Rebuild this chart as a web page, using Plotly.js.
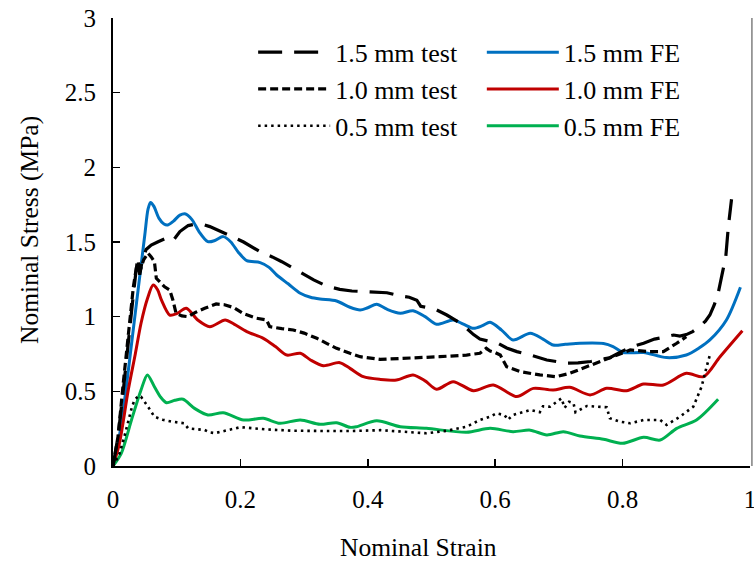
<!DOCTYPE html>
<html>
<head>
<meta charset="utf-8">
<script src="https://cdn.plot.ly/plotly-3.0.1.min.js"></script>
<style>html,body{margin:0;padding:0;background:#fff;}</style>
</head>
<body>
<div id="chart" style="width:754px;height:563px;"></div>
<script>
// ---- data ----
var seriesNames = ["1.5 mm test", "1.0 mm test", "0.5 mm test", "1.5 mm FE", "1.0 mm FE", "0.5 mm FE"];
var xTitle = "Nominal Strain";
var yTitle = "Nominal Stress (MPa)";

var test15X = [0, 0.008, 0.016, 0.024, 0.032, 0.036, 0.039, 0.042, 0.046, 0.052, 0.06, 0.07, 0.08, 0.086, 0.092, 0.098, 0.105, 0.118, 0.13, 0.144, 0.152, 0.165, 0.18, 0.205, 0.231, 0.25, 0.265, 0.288, 0.315, 0.335, 0.356, 0.375, 0.395, 0.414, 0.43, 0.451, 0.465, 0.477, 0.483, 0.495, 0.508, 0.524, 0.54, 0.555, 0.566, 0.576, 0.592, 0.605, 0.618, 0.634, 0.655, 0.681, 0.712, 0.73, 0.75, 0.765, 0.78, 0.798, 0.815, 0.833, 0.85, 0.869, 0.88, 0.89, 0.9, 0.91, 0.921, 0.93, 0.937, 0.944, 0.95, 0.956, 0.962, 0.966, 0.971];
var test15Y = [0, 0.2, 0.5, 0.85, 1.15, 1.3, 1.4, 1.28, 1.38, 1.45, 1.48, 1.5, 1.52, 1.53, 1.55, 1.53, 1.57, 1.61, 1.62, 1.614, 1.603, 1.58, 1.55, 1.5, 1.435, 1.4, 1.368, 1.313, 1.246, 1.206, 1.183, 1.172, 1.168, 1.168, 1.16, 1.139, 1.13, 1.11, 1.07, 1.06, 1.045, 1.011, 0.97, 0.922, 0.88, 0.85, 0.835, 0.82, 0.79, 0.766, 0.743, 0.71, 0.688, 0.69, 0.7, 0.71, 0.725, 0.766, 0.8, 0.822, 0.85, 0.866, 0.877, 0.87, 0.88, 0.9, 0.933, 0.97, 1.011, 1.08, 1.157, 1.28, 1.402, 1.603, 1.786];

var test10X = [0, 0.008, 0.016, 0.024, 0.032, 0.037, 0.042, 0.048, 0.055, 0.06, 0.065, 0.068, 0.075, 0.081, 0.089, 0.094, 0.099, 0.108, 0.118, 0.13, 0.144, 0.162, 0.175, 0.19, 0.205, 0.225, 0.241, 0.246, 0.265, 0.283, 0.3, 0.32, 0.336, 0.351, 0.372, 0.388, 0.419, 0.461, 0.513, 0.555, 0.576, 0.586, 0.592, 0.6, 0.608, 0.618, 0.639, 0.67, 0.696, 0.717, 0.744, 0.775, 0.796, 0.812, 0.843, 0.864, 0.885, 0.9];
var test10Y = [0, 0.2, 0.55, 0.9, 1.2, 1.335, 1.3, 1.38, 1.425, 1.4, 1.368, 1.257, 1.23, 1.2, 1.179, 1.112, 1.023, 1.005, 1.0, 1.03, 1.056, 1.085, 1.08, 1.06, 1.02, 0.99, 0.978, 0.933, 0.92, 0.911, 0.89, 0.855, 0.82, 0.788, 0.755, 0.732, 0.714, 0.721, 0.732, 0.743, 0.755, 0.788, 0.77, 0.76, 0.743, 0.665, 0.632, 0.61, 0.598, 0.621, 0.665, 0.721, 0.755, 0.777, 0.766, 0.766, 0.822, 0.866];

var test05X = [0, 0.01, 0.018, 0.024, 0.03, 0.034, 0.04, 0.044, 0.05, 0.055, 0.065, 0.078, 0.092, 0.112, 0.118, 0.135, 0.144, 0.152, 0.16, 0.18, 0.2, 0.24, 0.283, 0.32, 0.372, 0.42, 0.461, 0.492, 0.524, 0.555, 0.576, 0.592, 0.602, 0.615, 0.62, 0.628, 0.655, 0.67, 0.675, 0.686, 0.704, 0.709, 0.716, 0.723, 0.726, 0.744, 0.775, 0.78, 0.796, 0.812, 0.833, 0.859, 0.869, 0.89, 0.911, 0.924, 0.932, 0.937];
var test05Y = [0, 0.08, 0.2, 0.308, 0.4, 0.442, 0.47, 0.464, 0.43, 0.397, 0.33, 0.31, 0.297, 0.286, 0.252, 0.245, 0.241, 0.225, 0.22, 0.24, 0.26, 0.245, 0.236, 0.235, 0.234, 0.24, 0.23, 0.219, 0.236, 0.263, 0.308, 0.33, 0.353, 0.34, 0.31, 0.342, 0.375, 0.36, 0.4, 0.397, 0.453, 0.39, 0.43, 0.42, 0.36, 0.402, 0.393, 0.32, 0.297, 0.286, 0.308, 0.308, 0.275, 0.33, 0.397, 0.531, 0.665, 0.743];

var fe15X = [0, 0.01, 0.02, 0.03, 0.04, 0.05, 0.055, 0.059, 0.064, 0.072, 0.08, 0.086, 0.095, 0.105, 0.114, 0.124, 0.135, 0.149, 0.16, 0.173, 0.185, 0.197, 0.21, 0.231, 0.245, 0.257, 0.275, 0.294, 0.31, 0.325, 0.351, 0.372, 0.388, 0.4, 0.414, 0.43, 0.451, 0.471, 0.49, 0.508, 0.534, 0.55, 0.566, 0.58, 0.592, 0.61, 0.628, 0.655, 0.675, 0.691, 0.71, 0.733, 0.77, 0.785, 0.801, 0.833, 0.869, 0.9, 0.92, 0.937, 0.963, 0.985];
var fe15Y = [0, 0.2, 0.5, 0.85, 1.2, 1.55, 1.72, 1.764, 1.74, 1.66, 1.62, 1.614, 1.64, 1.68, 1.688, 1.65, 1.57, 1.502, 1.51, 1.536, 1.5, 1.43, 1.375, 1.362, 1.33, 1.279, 1.22, 1.157, 1.13, 1.118, 1.105, 1.063, 1.045, 1.06, 1.083, 1.05, 1.023, 1.04, 1.0, 0.949, 0.978, 0.95, 0.922, 0.94, 0.962, 0.91, 0.844, 0.889, 0.85, 0.81, 0.815, 0.822, 0.82, 0.8, 0.76, 0.76, 0.726, 0.743, 0.79, 0.844, 0.978, 1.197];

var fe10X = [0, 0.01, 0.024, 0.035, 0.044, 0.054, 0.063, 0.07, 0.076, 0.089, 0.1, 0.115, 0.133, 0.152, 0.176, 0.19, 0.21, 0.236, 0.255, 0.273, 0.294, 0.31, 0.33, 0.356, 0.372, 0.393, 0.42, 0.445, 0.471, 0.49, 0.508, 0.534, 0.566, 0.597, 0.634, 0.66, 0.691, 0.717, 0.749, 0.775, 0.806, 0.833, 0.864, 0.9, 0.927, 0.953, 0.988];
var fe10Y = [0, 0.15, 0.51, 0.75, 0.956, 1.12, 1.212, 1.18, 1.112, 1.011, 1.02, 1.056, 0.978, 0.933, 0.978, 0.95, 0.9, 0.855, 0.8, 0.743, 0.755, 0.71, 0.672, 0.692, 0.654, 0.598, 0.58, 0.576, 0.61, 0.57, 0.514, 0.565, 0.504, 0.543, 0.465, 0.52, 0.509, 0.527, 0.476, 0.52, 0.504, 0.549, 0.543, 0.621, 0.598, 0.732, 0.906];

var fe05X = [0, 0.013, 0.029, 0.044, 0.054, 0.065, 0.075, 0.084, 0.097, 0.11, 0.128, 0.149, 0.173, 0.205, 0.236, 0.262, 0.294, 0.325, 0.351, 0.372, 0.382, 0.414, 0.451, 0.492, 0.555, 0.592, 0.628, 0.655, 0.681, 0.707, 0.733, 0.77, 0.8, 0.833, 0.859, 0.885, 0.916, 0.95];
var fe05Y = [0, 0.085, 0.308, 0.509, 0.61, 0.531, 0.46, 0.424, 0.44, 0.447, 0.386, 0.342, 0.357, 0.308, 0.319, 0.286, 0.308, 0.279, 0.29, 0.259, 0.263, 0.303, 0.263, 0.252, 0.226, 0.252, 0.23, 0.24, 0.208, 0.23, 0.201, 0.179, 0.152, 0.192, 0.174, 0.252, 0.308, 0.447];

var xTickVals = [0, 0.2, 0.4, 0.6, 0.8, 1];
var xTickText = ["0", "0.2", "0.4", "0.6", "0.8", "1"];
var yTickVals = [0, 0.5, 1, 1.5, 2, 2.5, 3];
var yTickText = ["0", "0.5", "1", "1.5", "2", "2.5", "3"];

// ---- styling ----
var FONT = "Liberation Serif, Times New Roman, serif";
var BLUE = "#0070C0", RED = "#C00000", GREEN = "#00B050";

var traces = [
  {x: fe15X, y: fe15Y, name: seriesNames[3], mode: "lines", legend: "legend2",
   line: {color: BLUE, width: 3, shape: "spline", smoothing: 0.8}},
  {x: fe10X, y: fe10Y, name: seriesNames[4], mode: "lines", legend: "legend2",
   line: {color: RED, width: 3, shape: "spline", smoothing: 0.8}},
  {x: fe05X, y: fe05Y, name: seriesNames[5], mode: "lines", legend: "legend2",
   line: {color: GREEN, width: 3, shape: "spline", smoothing: 0.8}},
  {x: test15X, y: test15Y, name: seriesNames[0], mode: "lines", legend: "legend",
   line: {color: "#000", width: 3.2, dash: "24px,12px"}},
  {x: test10X, y: test10Y, name: seriesNames[1], mode: "lines", legend: "legend",
   line: {color: "#000", width: 3.2, dash: "8px,4px"}},
  {x: test05X, y: test05Y, name: seriesNames[2], mode: "lines", legend: "legend",
   line: {color: "#000", width: 2.6, dash: "2.5px,4px"}}
];

var legendCommon = {
  font: {family: FONT, size: 26, color: "#000"},
  bgcolor: "rgba(0,0,0,0)", borderwidth: 0,
  xanchor: "left", yanchor: "top", orientation: "v",
  itemwidth: 72, traceorder: "normal"
};

var titleFont = {family: FONT, size: 25.5, color: "#000"};

var layout = {
  width: 754, height: 563,
  margin: {l: 113, r: 4, t: 18, b: 97, pad: 0},
  paper_bgcolor: "#fff", plot_bgcolor: "#fff",
  font: {family: FONT, size: 25, color: "#000"},
  showlegend: true,
  legend: Object.assign({}, legendCommon, {x: 0.22, y: 0.976}),
  legend2: Object.assign({}, legendCommon, {x: 0.579, y: 0.976}),
  xaxis: {
    range: [0, 1], tickvals: xTickVals, ticktext: xTickText,
    ticks: "inside", ticklen: 7, tickwidth: 1.5, tickcolor: "#000",
    showline: true, linecolor: "#000", linewidth: 2,
    showgrid: false, zeroline: false, fixedrange: true,
    tickfont: {family: FONT, size: 25, color: "#000"},
    ticklabelstandoff: 10, ticklabeloverflow: "allow"
  },
  yaxis: {
    range: [0, 3], tickvals: yTickVals, ticktext: yTickText,
    ticks: "inside", ticklen: 7, tickwidth: 1.5, tickcolor: "#000",
    showline: true, linecolor: "#000", linewidth: 2,
    showgrid: false, zeroline: false, fixedrange: true,
    tickfont: {family: FONT, size: 25, color: "#000"},
    ticklabelstandoff: 10
  },
  annotations: [
    {text: xTitle, xref: "paper", yref: "paper", x: 0.48, y: -0.181,
     xanchor: "center", yanchor: "middle", showarrow: false, font: titleFont},
    {text: yTitle, xref: "paper", yref: "paper", x: -0.1303, y: 0.527, textangle: -90,
     xanchor: "center", yanchor: "middle", showarrow: false, font: titleFont}
  ],
  shapes: [
    {type: "line", xref: "paper", yref: "paper", x0: 1.003, x1: 1.003, y0: 0, y1: 1,
     line: {color: "#808080", width: 1.5}}
  ]
};

Plotly.newPlot("chart", traces, layout, {displayModeBar: false, staticPlot: true});
</script>
</body>
</html>
